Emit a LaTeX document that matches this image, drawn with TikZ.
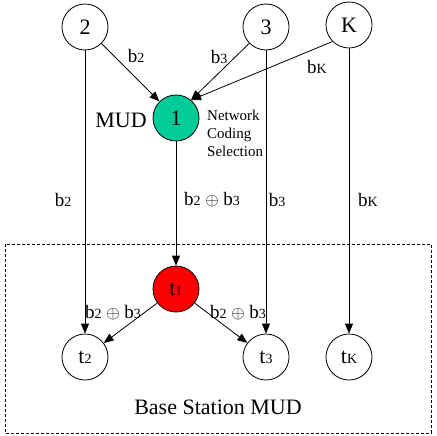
\documentclass[tikz,border=0pt]{standalone}
\usepackage{fontspec}
\setmainfont{Liberation Serif}
\usetikzlibrary{arrows.meta}
\definecolor{mudgreen}{RGB}{0,204,153}
\newcommand{\lowidx}[1]{{\fontsize{14}{14}\selectfont #1}}
\begin{document}
\begin{tikzpicture}[x=1pt,y=-1pt,
  user/.style={circle,draw,line width=0.8pt,minimum size=46pt,inner sep=0pt,font={\fontsize{22}{22}\selectfont}},
  lbl/.style={inner sep=0pt,font={\fontsize{19}{19}\selectfont}},
  arr/.style={line width=0.8pt,-{Triangle[length=10pt,width=8pt]}}]
  \useasboundingbox (0,0) rectangle (436,436);
  \draw[line width=0.6pt,dash pattern=on 3pt off 2pt] (5,244) rectangle (431,433);
  \node[user] (n2) at (85,27) {2};
  \node[user] (n3) at (266,27) {3};
  \node[user] (nK) at (349,25) {K};
  \node[user,fill=mudgreen] (n1) at (176,118) {1};
  \node[user,fill=red] (t1) at (176,289) {t\lowidx{1}};
  \node[user] (t2) at (85,357) {t\lowidx{2}};
  \node[user] (t3) at (266,357) {t\lowidx{3}};
  \node[user] (tK) at (349,357) {t\lowidx{K}};
  \draw[arr] (n2) -- (n1);
  \draw[arr] (n3) -- (n1.50);
  \draw[arr] (nK.225) -- (n1.50);
  \draw[arr] (n2) -- (t2);
  \draw[arr] (n3) -- (t3);
  \draw[arr] (nK) -- (tK);
  \draw[arr] (n1) -- (t1);
  \draw[arr] (t1) -- (t2);
  \draw[arr] (t1) -- (t3);
  \node[lbl] (lb2) at (136,56) {b\lowidx{2}};
  \node[lbl] (lb3) at (219,57) {b\lowidx{3}};
  \node[lbl] (lbK) at (317,67) {b\lowidx{K}};
  \node[lbl,font={\fontsize{22}{22}\selectfont}] (mud) at (121,120) {MUD};
  \node[inner sep=0pt,anchor=west,align=left,font={\fontsize{15}{18}\selectfont}] (ncs) at (207,133) {Network\\Coding\\Selection};
  \node[lbl] (mb2) at (63,200) {b\lowidx{2}};
  \node[lbl] (mb23) at (212,200) {b\lowidx{2} $\oplus$ b\lowidx{3}};
  \node[lbl] (mb3) at (277,200) {b\lowidx{3}};
  \node[lbl] (mbK) at (368,200) {b\lowidx{K}};
  \node[lbl] (lwl) at (113,313) {b\lowidx{2} $\oplus$ b\lowidx{3}};
  \node[lbl] (lwr) at (238,313) {b\lowidx{2} $\oplus$ b\lowidx{3}};
  \node[lbl,font={\fontsize{22}{22}\selectfont}] (bs) at (218,407) {Base Station MUD};
\end{tikzpicture}
\end{document}
